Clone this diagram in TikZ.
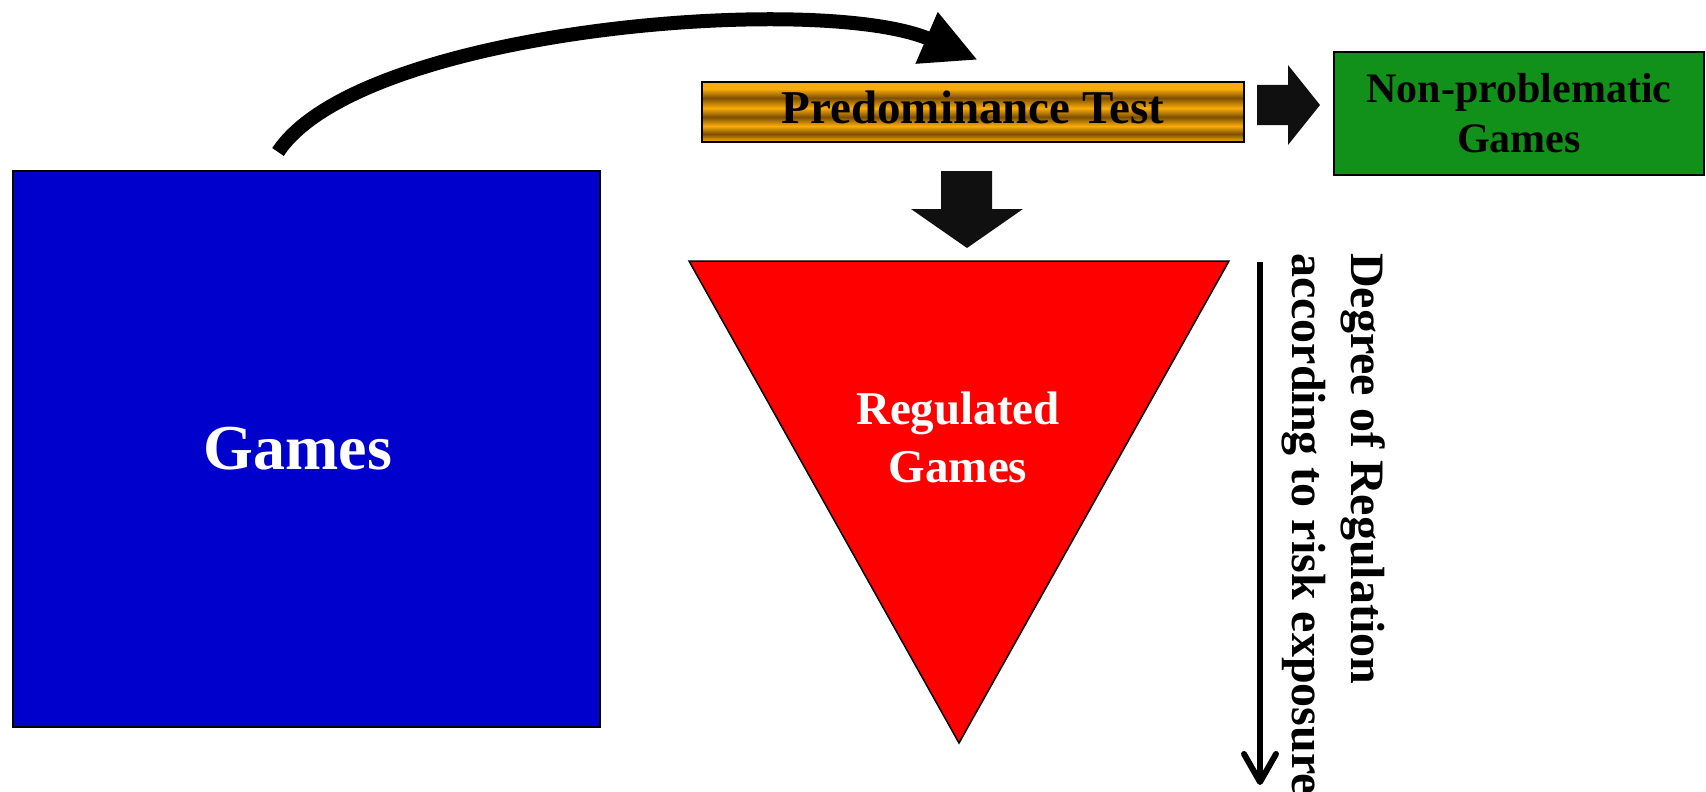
\documentclass[tikz,border=0pt]{standalone}
\usepackage{fontspec}
\setmainfont{Liberation Serif}
\usetikzlibrary{arrows.meta}
\definecolor{gblue}{RGB}{0,0,204}
\definecolor{ggreen}{RGB}{18,145,26}
\definecolor{goldl}{RGB}{250,172,10}
\definecolor{brownd}{RGB}{125,78,0}
\definecolor{blk}{RGB}{16,16,16}
\pgfdeclareverticalshading{barstripes}{100bp}{color(0bp)=(goldl); color(25.5bp)=(goldl); color(31.7bp)=(brownd); color(38.3bp)=(goldl); color(45.8bp)=(brownd); color(53.3bp)=(goldl); color(61.7bp)=(brownd); color(69.2bp)=(goldl); color(100bp)=(goldl)}
\begin{document}
\begin{tikzpicture}[x=1pt,y=-1pt,
  box/.style={draw=black, line width=1.5pt, inner sep=0pt, font=\bfseries},
  blockarrow/.style={fill=blk}]
\useasboundingbox (0,0) rectangle (1706,792);
% Games box
\node[box, fill=gblue, minimum width=587pt, minimum height=556pt] (games) at (306.5,449) {};
\node[text=white, inner sep=0pt, font=\bfseries\fontsize{64}{70}\selectfont] (gamestext) at (298,449) {Games};
% Predominance test bar
\node[box, shade, shading=barstripes, minimum width=542pt, minimum height=60pt, text depth=10pt,
  font=\bfseries\fontsize{47}{50}\selectfont] (pt) at (973,112) {Predominance Test};
% Non-problematic box
\node[box, fill=ggreen, line width=2.5pt, minimum width=370pt, minimum height=123pt, align=center,
  font=\bfseries\fontsize{42}{50}\selectfont] (np) at (1519,113.5) {Non-problematic\\Games};
% Regulated triangle
\coordinate (t1) at (689,261);
\coordinate (t2) at (1229,261);
\coordinate (t3) at (959,743);
\filldraw[fill=red, draw=black, line width=1.5pt] (t1) -- (t2) -- (t3) -- cycle;
\node[text=white, align=center, inner sep=0pt, font=\bfseries\fontsize{47}{58}\selectfont] (reg) at (958,437) {Regulated\\Games};
% block arrows
\fill[blockarrow] (941,171) -- (992,171) -- (992,209) -- (1023,209) -- (967,248) -- (911,209) -- (941,209) -- cycle;
\fill[blockarrow] (1257,85) -- (1288,85) -- (1288,65) -- (1320,105) -- (1288,145) -- (1288,125) -- (1257,125) -- cycle;
% curved arrow
\coordinate (cs) at (278,152);
\coordinate (ce) at (978,60);
\draw[line width=14pt, -{Triangle[length=56pt,width=52pt]}] (cs) .. controls (360,28) and (820,-8) .. (ce);
% degree arrow
\coordinate (ds) at (1260,262);
\coordinate (de) at (1260,785);
\draw[line width=6pt, -{Straight Barb[length=28pt,width=32pt,line cap=round,line join=round]}] (ds) -- (de);
\node[rotate=-90, anchor=north west, inner sep=0pt, align=left,
  font=\bfseries\fontsize{48}{59}\selectfont] (deg) at (1385,253) {Degree of Regulation\\according to risk exposure};
\end{tikzpicture}
\end{document}
